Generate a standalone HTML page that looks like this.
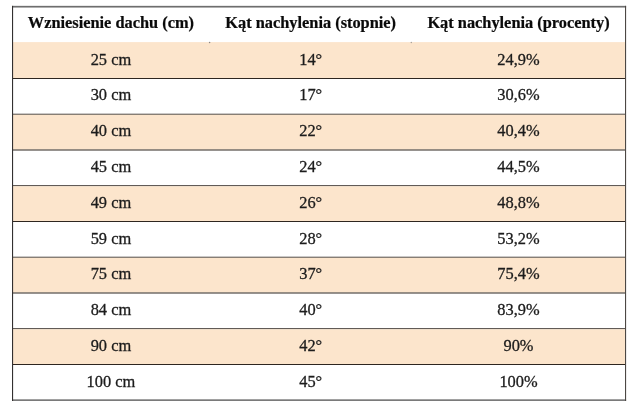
<!DOCTYPE html><html><head><meta charset="utf-8"><style>html,body{margin:0;padding:0;background:#fff;width:640px;height:407px;overflow:hidden}svg{display:block;filter:blur(0.35px)}text{font-family:"Liberation Serif","Times New Roman",serif}</style></head><body>
<svg width="640" height="407" viewBox="0 0 640 407">
<rect x="0" y="0" width="640" height="407" fill="#fff"/>
<rect x="12.0" y="42.10" width="613.00" height="35.90" fill="#FCE5CC"/>
<rect x="12.0" y="78.00" width="613.00" height="1.0" fill="#2e2620"/>
<rect x="12.0" y="113.75" width="613.00" height="1.0" fill="#2e2620"/>
<rect x="12.0" y="114.75" width="613.00" height="34.75" fill="#FCE5CC"/>
<rect x="12.0" y="149.50" width="613.00" height="1.0" fill="#2e2620"/>
<rect x="12.0" y="185.25" width="613.00" height="1.0" fill="#2e2620"/>
<rect x="12.0" y="186.25" width="613.00" height="34.75" fill="#FCE5CC"/>
<rect x="12.0" y="221.00" width="613.00" height="1.0" fill="#2e2620"/>
<rect x="12.0" y="256.75" width="613.00" height="1.0" fill="#2e2620"/>
<rect x="12.0" y="257.75" width="613.00" height="34.75" fill="#FCE5CC"/>
<rect x="12.0" y="292.50" width="613.00" height="1.0" fill="#2e2620"/>
<rect x="12.0" y="328.25" width="613.00" height="1.0" fill="#2e2620"/>
<rect x="12.0" y="329.25" width="613.00" height="34.75" fill="#FCE5CC"/>
<rect x="12.0" y="364.00" width="613.00" height="1.0" fill="#2e2620"/>
<rect x="12.0" y="5.85" width="614.10" height="1.7" fill="#6e6e6e"/>
<rect x="12.0" y="399.3" width="614.10" height="1.7" fill="#7a7a7a"/>
<rect x="12.0" y="5.85" width="1.1" height="395.15" fill="#333030"/>
<rect x="625.0" y="5.85" width="1.1" height="395.15" fill="#4c4844"/>
<circle cx="209.6" cy="42.6" r="0.75" fill="#8a8580"/>
<circle cx="411.3" cy="42.6" r="0.75" fill="#a8a09a"/>
<text x="110.9" y="28.1" text-anchor="middle" font-weight="bold" font-size="16.35" fill="#0a0a0a" stroke="#0a0a0a" stroke-width="0.22">Wzniesienie dachu (cm)</text>
<text x="310.7" y="28.1" text-anchor="middle" font-weight="bold" font-size="16.35" fill="#0a0a0a" stroke="#0a0a0a" stroke-width="0.22">Kąt nachylenia (stopnie)</text>
<text x="518.5" y="28.1" text-anchor="middle" font-weight="bold" font-size="16.35" fill="#0a0a0a" stroke="#0a0a0a" stroke-width="0.22">Kąt nachylenia (procenty)</text>
<text x="110.9" y="64.60" text-anchor="middle" font-size="16.4" fill="#1c1c1c" stroke="#1c1c1c" stroke-width="0.3">25 cm</text>
<text x="310.7" y="64.60" text-anchor="middle" font-size="16.4" fill="#1c1c1c" stroke="#1c1c1c" stroke-width="0.3">14°</text>
<text x="518.5" y="64.60" text-anchor="middle" font-size="16.4" fill="#1c1c1c" stroke="#1c1c1c" stroke-width="0.3">24,9%</text>
<text x="110.9" y="100.40" text-anchor="middle" font-size="16.4" fill="#1c1c1c" stroke="#1c1c1c" stroke-width="0.3">30 cm</text>
<text x="310.7" y="100.40" text-anchor="middle" font-size="16.4" fill="#1c1c1c" stroke="#1c1c1c" stroke-width="0.3">17°</text>
<text x="518.5" y="100.40" text-anchor="middle" font-size="16.4" fill="#1c1c1c" stroke="#1c1c1c" stroke-width="0.3">30,6%</text>
<text x="110.9" y="136.20" text-anchor="middle" font-size="16.4" fill="#1c1c1c" stroke="#1c1c1c" stroke-width="0.3">40 cm</text>
<text x="310.7" y="136.20" text-anchor="middle" font-size="16.4" fill="#1c1c1c" stroke="#1c1c1c" stroke-width="0.3">22°</text>
<text x="518.5" y="136.20" text-anchor="middle" font-size="16.4" fill="#1c1c1c" stroke="#1c1c1c" stroke-width="0.3">40,4%</text>
<text x="110.9" y="172.00" text-anchor="middle" font-size="16.4" fill="#1c1c1c" stroke="#1c1c1c" stroke-width="0.3">45 cm</text>
<text x="310.7" y="172.00" text-anchor="middle" font-size="16.4" fill="#1c1c1c" stroke="#1c1c1c" stroke-width="0.3">24°</text>
<text x="518.5" y="172.00" text-anchor="middle" font-size="16.4" fill="#1c1c1c" stroke="#1c1c1c" stroke-width="0.3">44,5%</text>
<text x="110.9" y="207.80" text-anchor="middle" font-size="16.4" fill="#1c1c1c" stroke="#1c1c1c" stroke-width="0.3">49 cm</text>
<text x="310.7" y="207.80" text-anchor="middle" font-size="16.4" fill="#1c1c1c" stroke="#1c1c1c" stroke-width="0.3">26°</text>
<text x="518.5" y="207.80" text-anchor="middle" font-size="16.4" fill="#1c1c1c" stroke="#1c1c1c" stroke-width="0.3">48,8%</text>
<text x="110.9" y="243.60" text-anchor="middle" font-size="16.4" fill="#1c1c1c" stroke="#1c1c1c" stroke-width="0.3">59 cm</text>
<text x="310.7" y="243.60" text-anchor="middle" font-size="16.4" fill="#1c1c1c" stroke="#1c1c1c" stroke-width="0.3">28°</text>
<text x="518.5" y="243.60" text-anchor="middle" font-size="16.4" fill="#1c1c1c" stroke="#1c1c1c" stroke-width="0.3">53,2%</text>
<text x="110.9" y="279.40" text-anchor="middle" font-size="16.4" fill="#1c1c1c" stroke="#1c1c1c" stroke-width="0.3">75 cm</text>
<text x="310.7" y="279.40" text-anchor="middle" font-size="16.4" fill="#1c1c1c" stroke="#1c1c1c" stroke-width="0.3">37°</text>
<text x="518.5" y="279.40" text-anchor="middle" font-size="16.4" fill="#1c1c1c" stroke="#1c1c1c" stroke-width="0.3">75,4%</text>
<text x="110.9" y="315.20" text-anchor="middle" font-size="16.4" fill="#1c1c1c" stroke="#1c1c1c" stroke-width="0.3">84 cm</text>
<text x="310.7" y="315.20" text-anchor="middle" font-size="16.4" fill="#1c1c1c" stroke="#1c1c1c" stroke-width="0.3">40°</text>
<text x="518.5" y="315.20" text-anchor="middle" font-size="16.4" fill="#1c1c1c" stroke="#1c1c1c" stroke-width="0.3">83,9%</text>
<text x="110.9" y="351.00" text-anchor="middle" font-size="16.4" fill="#1c1c1c" stroke="#1c1c1c" stroke-width="0.3">90 cm</text>
<text x="310.7" y="351.00" text-anchor="middle" font-size="16.4" fill="#1c1c1c" stroke="#1c1c1c" stroke-width="0.3">42°</text>
<text x="518.5" y="351.00" text-anchor="middle" font-size="16.4" fill="#1c1c1c" stroke="#1c1c1c" stroke-width="0.3">90%</text>
<text x="110.9" y="386.80" text-anchor="middle" font-size="16.4" fill="#1c1c1c" stroke="#1c1c1c" stroke-width="0.3">100 cm</text>
<text x="310.7" y="386.80" text-anchor="middle" font-size="16.4" fill="#1c1c1c" stroke="#1c1c1c" stroke-width="0.3">45°</text>
<text x="518.5" y="386.80" text-anchor="middle" font-size="16.4" fill="#1c1c1c" stroke="#1c1c1c" stroke-width="0.3">100%</text>
</svg></body></html>
